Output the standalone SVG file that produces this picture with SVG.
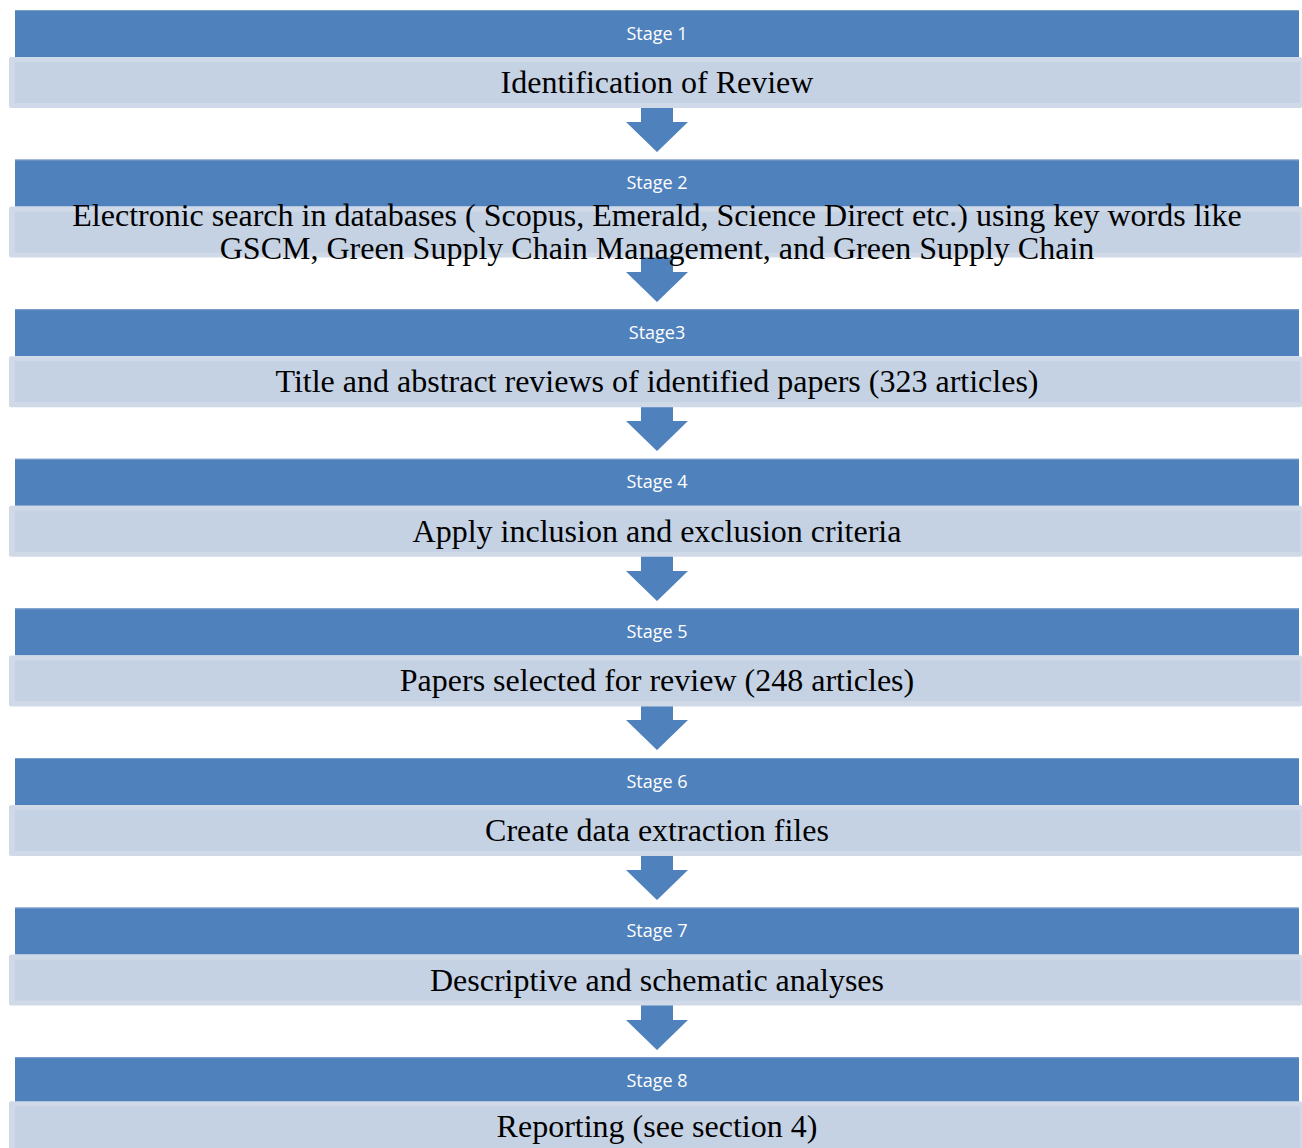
<svg xmlns="http://www.w3.org/2000/svg" width="1302" height="1148" viewBox="0 0 1302 1148">
<style>
.hdr{fill:#4f81bd}
.hdrline{fill:#7b9fcc}
.boxo{fill:#d0d9e7}
.boxi{fill:#c5d2e4}
.lbl{font-family:"Open Sans","Liberation Sans",sans-serif;font-size:18px;fill:#ffffff;text-anchor:middle}
.txt{font-family:"Liberation Serif","Times New Roman",serif;font-size:32px;fill:#000000;text-anchor:middle}
.arr{fill:#4f81bd}
</style>
<defs>
<polygon id="arrow" class="arr" points="641,0 673,0 673,16 688,16 657,46 626,16 641,16"/>
</defs>
<rect width="1302" height="1148" fill="#ffffff"/>
<g id="connectors">
<use href="#arrow" y="106"/>
<use href="#arrow" y="256"/>
<use href="#arrow" y="405"/>
<use href="#arrow" y="555"/>
<use href="#arrow" y="704"/>
<use href="#arrow" y="854"/>
<use href="#arrow" y="1004"/>
</g>
<g id="stage1" transform="translate(0,10)">
<rect class="hdr" x="15" y="0" width="1284" height="47"/>
<rect class="hdrline" x="15" y="0" width="1284" height="1"/>
<rect class="boxo" x="9" y="47" width="1293" height="51" rx="2"/>
<rect class="boxi" x="15" y="52" width="1285" height="41"/>
<text class="lbl" x="657" y="29.5">Stage 1</text>
<text class="txt" x="657" y="83">Identification of Review</text>
</g>
<g id="stage2" transform="translate(0,159.6)">
<rect class="hdr" x="15" y="0" width="1284" height="47"/>
<rect class="hdrline" x="15" y="0" width="1284" height="1"/>
<rect class="boxo" x="9" y="47" width="1293" height="51" rx="2"/>
<rect class="boxi" x="15" y="52" width="1285" height="41"/>
<text class="lbl" x="657" y="29.5">Stage 2</text>
</g>
<g id="stage3" transform="translate(0,309.2)">
<rect class="hdr" x="15" y="0" width="1284" height="47"/>
<rect class="hdrline" x="15" y="0" width="1284" height="1"/>
<rect class="boxo" x="9" y="47" width="1293" height="51" rx="2"/>
<rect class="boxi" x="15" y="52" width="1285" height="41"/>
<text class="lbl" x="657" y="29.5">Stage3</text>
<text class="txt" x="657" y="83">Title and abstract reviews of identified papers (323 articles)</text>
</g>
<g id="stage4" transform="translate(0,458.8)">
<rect class="hdr" x="15" y="0" width="1284" height="47"/>
<rect class="hdrline" x="15" y="0" width="1284" height="1"/>
<rect class="boxo" x="9" y="47" width="1293" height="51" rx="2"/>
<rect class="boxi" x="15" y="52" width="1285" height="41"/>
<text class="lbl" x="657" y="29.5">Stage 4</text>
<text class="txt" x="657" y="83">Apply inclusion and exclusion criteria</text>
</g>
<g id="stage5" transform="translate(0,608.4)">
<rect class="hdr" x="15" y="0" width="1284" height="47"/>
<rect class="hdrline" x="15" y="0" width="1284" height="1"/>
<rect class="boxo" x="9" y="47" width="1293" height="51" rx="2"/>
<rect class="boxi" x="15" y="52" width="1285" height="41"/>
<text class="lbl" x="657" y="29.5">Stage 5</text>
<text class="txt" x="657" y="83">Papers selected for review (248 articles)</text>
</g>
<g id="stage6" transform="translate(0,758)">
<rect class="hdr" x="15" y="0" width="1284" height="47"/>
<rect class="hdrline" x="15" y="0" width="1284" height="1"/>
<rect class="boxo" x="9" y="47" width="1293" height="51" rx="2"/>
<rect class="boxi" x="15" y="52" width="1285" height="41"/>
<text class="lbl" x="657" y="29.5">Stage 6</text>
<text class="txt" x="657" y="83">Create data extraction files</text>
</g>
<g id="stage7" transform="translate(0,907.6)">
<rect class="hdr" x="15" y="0" width="1284" height="47"/>
<rect class="hdrline" x="15" y="0" width="1284" height="1"/>
<rect class="boxo" x="9" y="47" width="1293" height="51" rx="2"/>
<rect class="boxi" x="15" y="52" width="1285" height="41"/>
<text class="lbl" x="657" y="29.5">Stage 7</text>
<text class="txt" x="657" y="83">Descriptive and schematic analyses</text>
</g>
<g id="stage8" transform="translate(0,1057.2)">
<rect class="hdr" x="15" y="0" width="1284" height="47"/>
<rect class="hdrline" x="15" y="0" width="1284" height="1"/>
<rect class="boxo" x="9" y="44" width="1293" height="60" rx="2"/>
<rect class="boxi" x="15" y="49" width="1285" height="45"/>
<text class="lbl" x="657" y="29.5">Stage 8</text>
<text class="txt" x="657" y="80">Reporting (see section 4)</text>
</g>
<g id="stage2-text">
<text class="txt" x="657" y="226">Electronic search in databases ( Scopus, Emerald, Science Direct etc.) using key words like</text>
<text class="txt" x="657" y="259">GSCM, Green Supply Chain Management, and Green Supply Chain</text>
</g>
</svg>
